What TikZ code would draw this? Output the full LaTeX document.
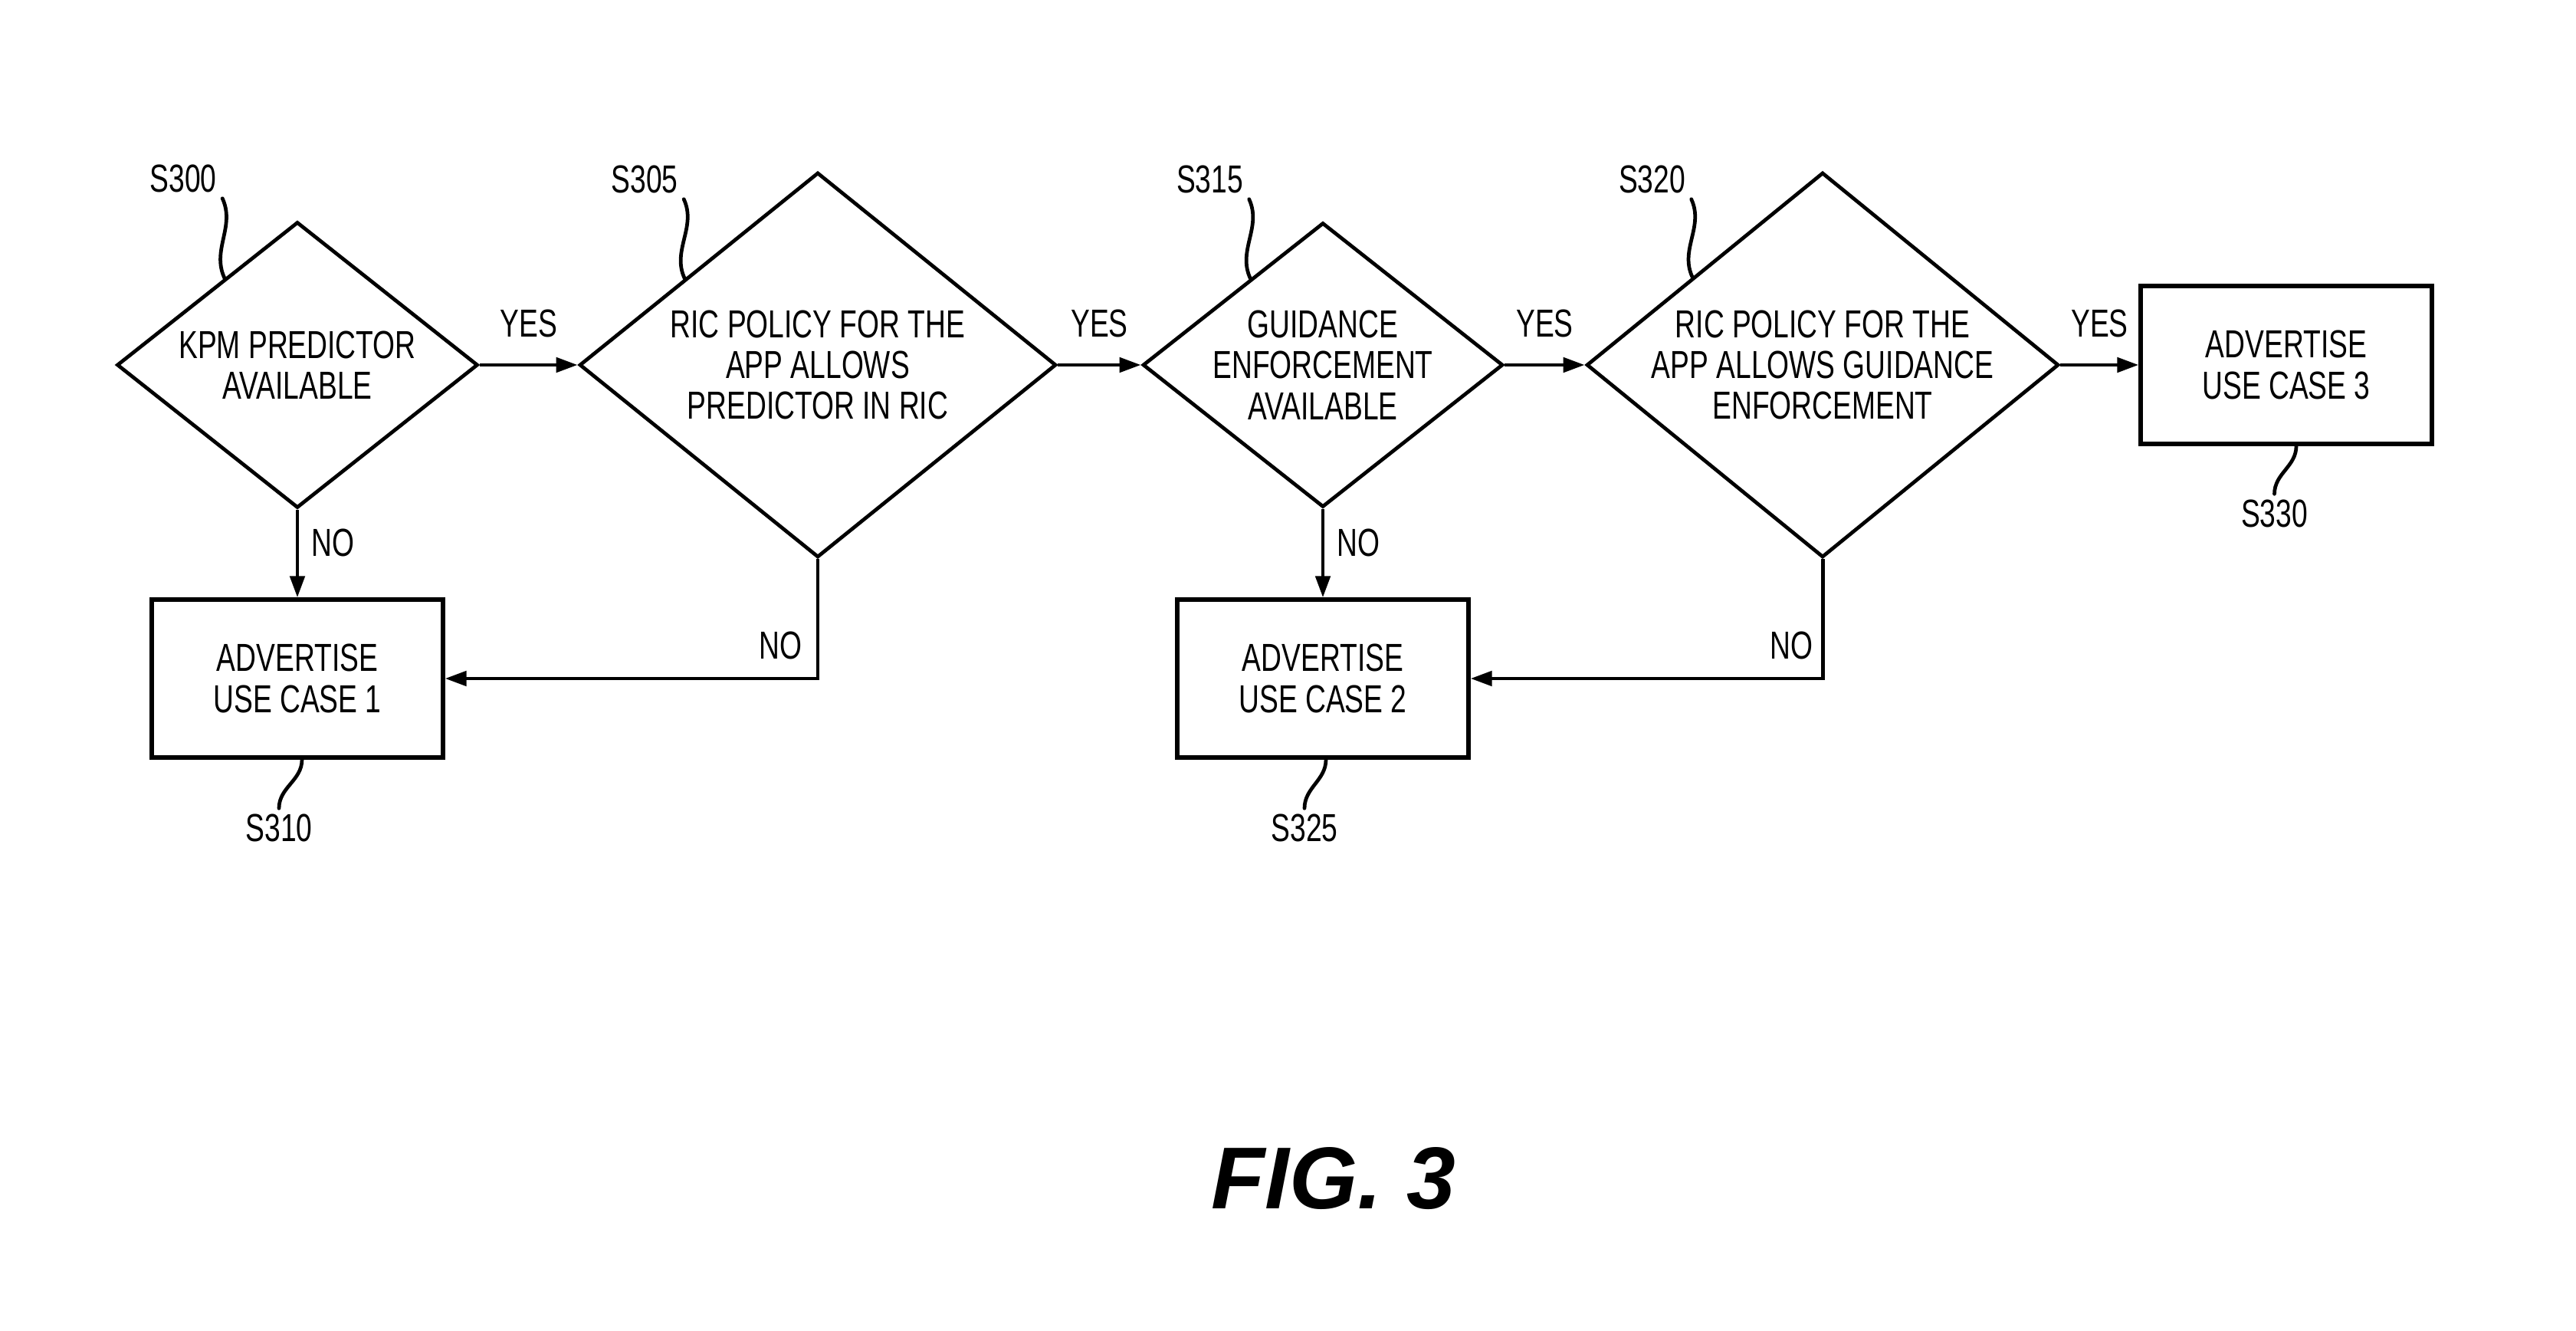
\documentclass[tikz,border=0pt]{standalone}
\usepackage{fontspec}
\setmainfont{Liberation Sans}[FakeStretch=0.73]
\newfontfamily\figFont{Liberation Sans}
\usetikzlibrary{shapes.geometric, arrows.meta, positioning}
\definecolor{lineColor}{RGB}{0, 0, 0}
\tikzset{
    font=\fontsize{14.5}{15.2}\selectfont,
    % --- decision diamonds (width, height) ---
    decisionNode/.style 2 args={
        diamond, draw=lineColor, line width=1.35pt,
        aspect=1.25, inner sep=-0.3cm, align=center,
        minimum width=#1, minimum height=#2
    },
    % --- use case boxes ---
    caseNode/.style={
        rectangle, draw=lineColor, line width=1.5pt,
        minimum width=3.80cm, minimum height=2.06cm,
        inner sep=0pt, align=center
    },
    % --- flow arrows ---
    conn/.style={
        draw=lineColor, line width=1.4pt,
        -{Triangle[length=2.8mm, width=1.9mm]}
    },
    % --- YES / NO ---
    branchLabel/.style={
        inner sep=0pt, text=lineColor
    },
    % --- step numbers and their leaders ---
    stepLabel/.style={
        inner sep=2pt, text=lineColor
    },
    leader/.style={
        draw=lineColor, line width=1.35pt, line cap=round
    },
    figLabel/.style={
        inner sep=0pt,
        font=\figFont\bfseries\itshape\fontsize{32.6}{36}\selectfont
    }
}

\begin{document}
\begin{tikzpicture}

	% =========================================
	% 1. Frame
	% =========================================
	\useasboundingbox (0, 0) rectangle (33.61, -17.36);

	% =========================================
	% 2. Steps
	% =========================================

	% --- decisions (top row, y=-4.76) ---
	\node[decisionNode={4.71cm}{3.73cm}] (d1) at (3.88, -4.76) {KPM PREDICTOR\\AVAILABLE};
	\node[decisionNode={6.22cm}{5.02cm}] (d2) at (10.67, -4.76) {RIC POLICY FOR THE\\APP ALLOWS\\PREDICTOR IN RIC};
	\node[decisionNode={4.70cm}{3.71cm}] (d3) at (17.26, -4.76) {GUIDANCE\\ENFORCEMENT\\AVAILABLE};
	\node[decisionNode={6.16cm}{5.02cm}] (d4) at (23.78, -4.76) {RIC POLICY FOR THE\\APP ALLOWS GUIDANCE\\ENFORCEMENT};

	% --- use cases ---
	\node[caseNode] (b3) at (29.83, -4.76) {ADVERTISE\\USE CASE 3};
	\node[caseNode] (b1) at (3.88, -8.85) {ADVERTISE\\USE CASE 1};
	\node[caseNode] (b2) at (17.26, -8.85) {ADVERTISE\\USE CASE 2};

	% =========================================
	% 3. Flow
	% =========================================

	% YES chain along the top
	\draw[conn] (d1) -- node[branchLabel, midway, above=0.34cm] {YES} (d2);
	\draw[conn] (d2) -- node[branchLabel, midway, above=0.34cm] {YES} (d3);
	\draw[conn] (d3) -- node[branchLabel, midway, above=0.34cm] {YES} (d4);
	\draw[conn] (d4) -- node[branchLabel, midway, above=0.34cm] {YES} (b3);

	% NO branches
	\draw[conn] (d1) -- node[branchLabel, pos=0.38, right=0.16cm] {NO} (b1);
	\draw[conn] (d3) -- node[branchLabel, pos=0.38, right=0.16cm] {NO} (b2);
	\draw[conn] (d2.south) |- node[branchLabel, pos=0.5, above left=0.23cm and 0.18cm] {NO} (b1.east);
	\draw[conn] (d4.south) |- node[branchLabel, pos=0.5, above left=0.23cm and 0.10cm] {NO} (b2.east);

	% =========================================
	% 4. Step numbers
	% =========================================
	\node[stepLabel] (s300) at (2.39, -2.33) {S300};
	\node[stepLabel] (s305) at (8.41, -2.34) {S305};
	\node[stepLabel] (s315) at (15.785, -2.34) {S315};
	\node[stepLabel] (s320) at (21.555, -2.34) {S320};
	\node[stepLabel] (s310) at (3.64, -10.80) {S310};
	\node[stepLabel] (s325) at (17.02, -10.80) {S325};
	\node[stepLabel] (s330) at (29.675, -6.70) {S330};

	\draw[leader] (s300.south east) to[out=-65, in=115] (d1.130);
	\draw[leader] (s305.south east) to[out=-65, in=115] (d2.147);
	\draw[leader] (s315.south east) to[out=-65, in=115] (d3.130);
	\draw[leader] (s320.south east) to[out=-65, in=115] (d4.146);

	\draw[leader] ([xshift=0.06cm]b1.south) to[out=-90, in=90] (s310.north);
	\draw[leader] ([xshift=0.04cm]b2.south) to[out=-90, in=90] (s325.north);
	\draw[leader] ([xshift=0.13cm]b3.south) to[out=-90, in=90] (s330.north);

	% caption
	\node[figLabel] (fig) at (17.40, -15.37) {FIG. 3};

\end{tikzpicture}
\end{document}
